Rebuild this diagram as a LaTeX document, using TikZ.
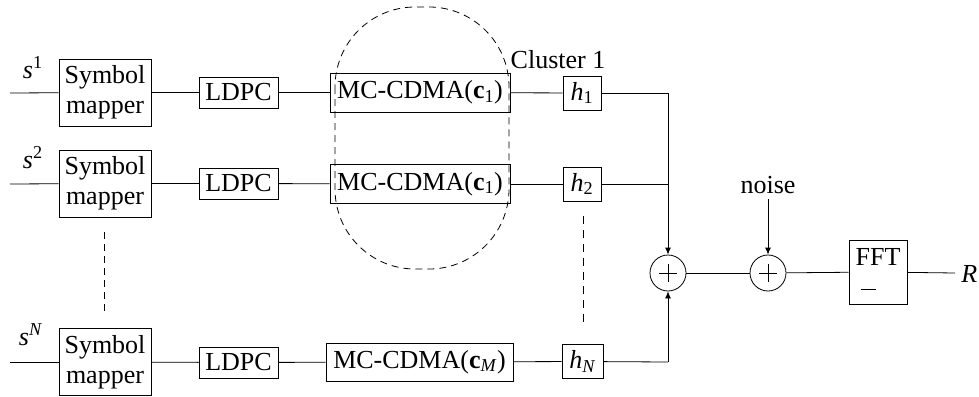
\documentclass[tikz,border=0pt]{standalone}
\usepackage{fontspec}
\setmainfont{Liberation Serif}
\usetikzlibrary{arrows.meta}
\newcommand{\vsub}[2]{\textit{#1}\textsubscript{#2}}
\newcommand{\vsup}[2]{\textit{#1}\textsuperscript{#2}}
\begin{document}
\begin{tikzpicture}[x=1pt,y=-1pt, line width=0.8pt,
  every node/.style={font=\fontsize{26}{30}\selectfont},
  blk/.style={draw, inner sep=0pt, align=center},
  mapper/.style={blk, minimum width=92pt, minimum height=67pt},
  ldpc/.style={blk, minimum width=79pt, minimum height=31pt},
  mcc/.style={blk, minimum width=180pt, minimum height=39pt},
  chan/.style={blk, minimum width=38pt, minimum height=34pt},
  sumnode/.style={draw, circle, minimum size=36pt, inner sep=0pt,
    path picture={
      \draw ([xshift=-9pt]path picture bounding box.center) -- ([xshift=9pt]path picture bounding box.center);
      \draw ([yshift=-9pt]path picture bounding box.center) -- ([yshift=9pt]path picture bounding box.center);}},
  arr/.style={-{Latex[length=7pt,width=6pt]}},
  dsh/.style={dash pattern=on 7pt off 5pt}
]
\useasboundingbox (0,0) rectangle (979,396);

% row 1
\coordinate (in1) at (10,93);
\node[mapper] (map1) at (105,92.5) {Symbol\\mapper};
\node[ldpc] (ld1) at (238.5,92.5) {LDPC};
\node[mcc] (mc1) at (420,92.5) {MC-CDMA(\textbf{c}\textsubscript{1})};
\node[chan] (h1) at (582,93) {\vsub{h}{1}};
\coordinate (j1) at (668,93);
\node[anchor=base east, inner sep=0pt] (s1) at (43,78) {\vsup{s}{1}};

% row 2
\coordinate (in2) at (10,184);
\node[mapper] (map2) at (105,183.5) {Symbol\\mapper};
\node[ldpc] (ld2) at (238.5,183.5) {LDPC};
\node[mcc] (mc2) at (420,184) {MC-CDMA(\textbf{c}\textsubscript{1})};
\node[chan] (h2) at (582,184) {\vsub{h}{2}};
\coordinate (j2) at (668,184);
\node[anchor=base east, inner sep=0pt] (s2) at (43,168) {\vsup{s}{2}};

% row N
\coordinate (in3) at (10,362);
\node[mapper] (map3) at (105,362) {Symbol\\mapper};
\node[ldpc] (ld3) at (238.5,362.5) {LDPC};
\node[blk, minimum width=187pt, minimum height=38pt] (mc3) at (419.5,362) {MC-CDMA(\textbf{c}\textsubscript{\textit{M}})};
\node[chan, minimum width=41pt] (h3) at (582.5,361.5) {\vsub{h}{\textit{N}}};
\coordinate (j3) at (668,362);
\node[anchor=base east, inner sep=0pt] (s3) at (43,345) {\vsup{s}{\textit{N}}};

% summation and output
\node[sumnode] (sum1) at (668,273) {};
\node[sumnode] (sum2) at (768,273) {};
\node[anchor=base, inner sep=0pt] (noise) at (768,193) {noise};
\coordinate (nz) at (768,199);
\node[blk, align=left, minimum width=58pt, minimum height=64pt] (fft) at (878,272) {FFT\\\hspace*{5pt}\rule[6pt]{15pt}{1pt}};
\coordinate (out) at (955,273);
\node[anchor=base west, inner sep=0pt] (R) at (961,282) {\textit{R}};

% cluster
\node[inner sep=0pt] (cl) at (558,60) {Cluster 1};
\draw[dsh, rounded corners=80pt] (335,7) rectangle (509,269);

% connectors
\foreach \i in {1,2,3}{
  \draw (in\i) -- (map\i);
  \draw (map\i) -- (ld\i);
  \draw (ld\i) -- (mc\i);
  \draw (mc\i) -- (h\i);
  \draw (h\i) -- (j\i);
}
\draw[arr] (j1) -- (sum1);
\draw[arr] (j3) -- (sum1);
\draw (sum1) -- (sum2);
\draw[arr] (nz) -- (sum2);
\draw (sum2) -- (fft);
\draw (fft) -- (out);

% continuation dots
\coordinate (d1a) at (104,232);
\coordinate (d1b) at (104,313);
\coordinate (d2a) at (583,216);
\coordinate (d2b) at (583,325);
\draw[dsh] (d1a) -- (d1b);
\draw[dsh, line width=0.6pt, dash pattern=on 8pt off 6pt] (d2a) -- (d2b);
\end{tikzpicture}
\end{document}
